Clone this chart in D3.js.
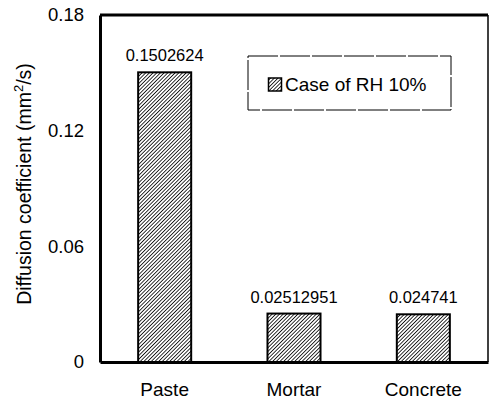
<!DOCTYPE html>
<html>
<head>
<meta charset="utf-8">
<script src="https://cdn.jsdelivr.net/npm/d3@7"></script>
<style>
  body { margin: 0; background: #fff; }
  svg { display: block; font-family: "Liberation Sans", Arial, sans-serif; }
</style>
</head>
<body>
<svg id="chart"></svg>
<script>
// data
const categories = ["Paste", "Mortar", "Concrete"];
const values = [0.1502624, 0.02512951, 0.024741];
const valueLabels = ["0.1502624", "0.02512951", "0.024741"];
const yTicks = [0, 0.06, 0.12, 0.18];
const legendLabel = "Case of RH 10%";

const W = 489, H = 401;
const margin = { top: 15, right: 1, bottom: 39, left: 100 };
const w = W - margin.left - margin.right;
const h = H - margin.top - margin.bottom;

const svg = d3.select('#chart').attr('width', W).attr('height', H);

// hatch pattern
const defs = svg.append('defs');
const pat = defs.append('pattern')
  .attr('id', 'hatch')
  .attr('patternUnits', 'userSpaceOnUse')
  .attr('width', 2.6).attr('height', 2.6)
  .attr('patternTransform', 'rotate(45)');
pat.append('rect').attr('width', 2.6).attr('height', 2.6).attr('fill', '#fff');
pat.append('line')
  .attr('x1', 0).attr('y1', 0).attr('x2', 0).attr('y2', 2.6)
  .attr('stroke', '#000').attr('stroke-width', 1.6);

const g = svg.append('g').attr('transform', `translate(${margin.left},${margin.top})`);

const x = d3.scaleBand().domain(categories).range([0, w]).paddingInner(0.59).paddingOuter(0.295);
const y = d3.scaleLinear().domain([0, 0.18]).range([h, 0]);

// bars
g.selectAll('.bar')
  .data(values)
  .join('rect')
  .attr('class', 'bar')
  .attr('x', (d, i) => x(categories[i]))
  .attr('y', d => y(d))
  .attr('width', x.bandwidth())
  .attr('height', d => h - y(d))
  .attr('fill', 'url(#hatch)')
  .attr('stroke', '#000')
  .attr('stroke-width', 2);

// value labels
g.selectAll('.vlab')
  .data(values)
  .join('text')
  .attr('class', 'vlab')
  .attr('x', (d, i) => x(categories[i]) + x.bandwidth() / 2)
  .attr('y', d => y(d) - 11)
  .attr('text-anchor', 'middle')
  .style('font-size', '16.5px')
  .text((d, i) => valueLabels[i]);

// frame
g.append('line').attr('x1', 0).attr('x2', w).attr('y1', 0).attr('y2', 0)
  .attr('stroke', '#000').attr('stroke-width', 3);
g.append('line').attr('x1', w).attr('x2', w).attr('y1', 0).attr('y2', h)
  .attr('stroke', '#000').attr('stroke-width', 1.5);

// axes
const yAxis = d3.axisLeft(y).tickValues(yTicks).tickSize(0).tickPadding(16)
  .tickFormat(d => d === 0 ? '0' : d3.format('.2f')(d));
const ya = g.append('g').call(yAxis);
ya.select('.domain').attr('stroke-width', 3);
ya.selectAll('text').style('font-size', '18.5px').attr('fill', '#000');

const xAxis = d3.axisBottom(x).tickSize(0).tickPadding(21);
const xa = g.append('g').attr('transform', `translate(0,${h})`).call(xAxis);
xa.select('.domain').attr('stroke-width', 3);
xa.selectAll('text').style('font-size', '19px').attr('fill', '#000');

// y title
svg.append('text')
  .attr('transform', 'translate(31,184) rotate(-90)')
  .attr('text-anchor', 'middle')
  .style('font-size', '19.5px')
  .html('Diffusion coefficient (mm<tspan dy="-8" font-size="13px">2</tspan><tspan dy="8">/s)</tspan>');

// legend
const lg = svg.append('g').attr('transform', 'translate(248,56)');
lg.append('rect').attr('width', 203).attr('height', 54)
  .attr('fill', '#fff').attr('stroke', '#000').attr('stroke-width', 1)
  .attr('stroke-dasharray', '30,2');
lg.append('rect').attr('x', 20.5).attr('y', 22).attr('width', 13).attr('height', 13)
  .attr('fill', 'url(#hatch)').attr('stroke', '#000').attr('stroke-width', 1.5);
lg.append('text').attr('x', 37).attr('y', 35)
  .style('font-size', '19px')
  .text(legendLabel);
</script>
</body>
</html>
